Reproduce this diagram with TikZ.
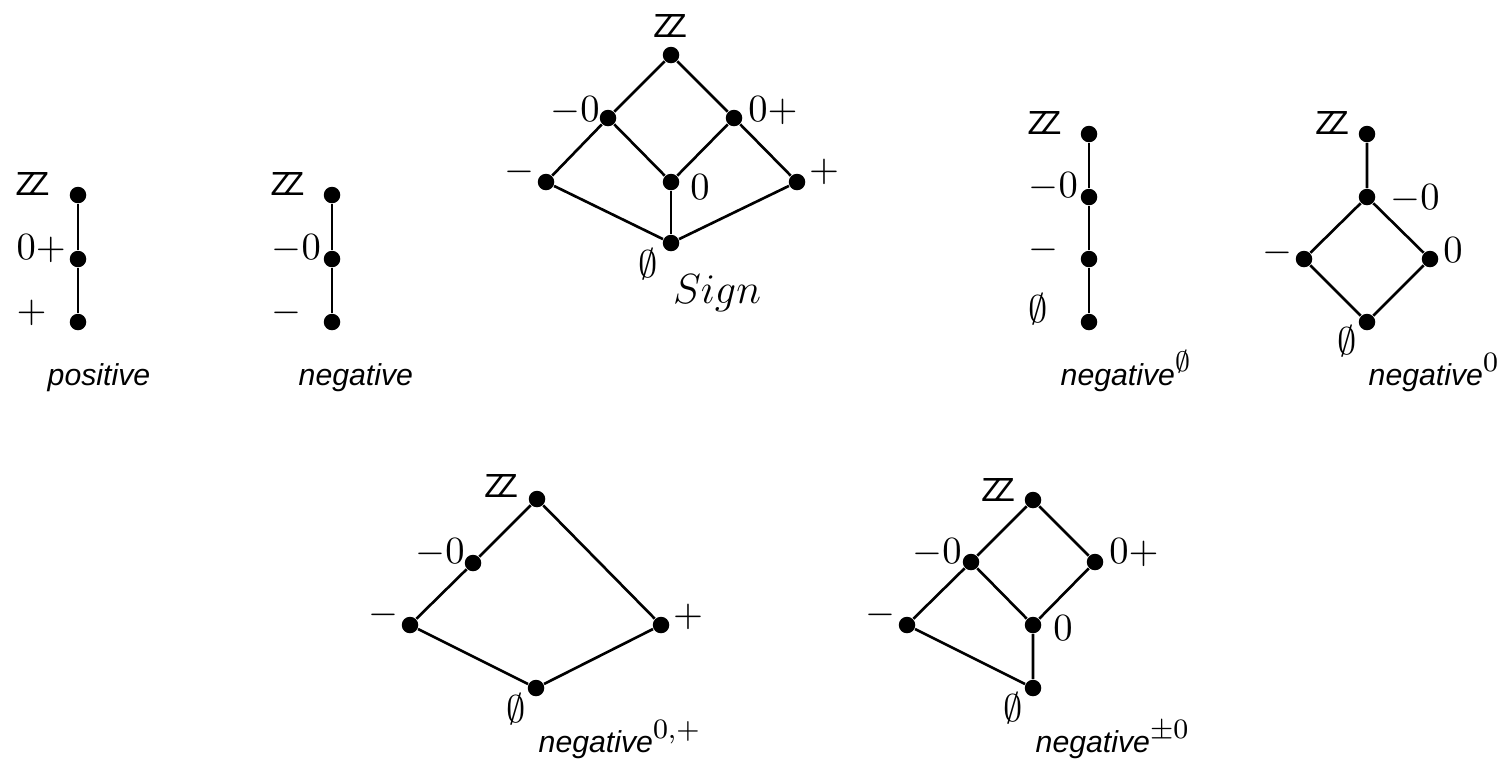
\documentclass[tikz,border=0pt]{standalone}
\usepackage{fontspec}
\usetikzlibrary{calc}
\newfontfamily\capfont{Liberation Sans}
\newcommand{\intset}{{\fontsize{9.5}{11}\selectfont\capfont Z\kern-0.22em Z}}
\newcommand{\capname}[1]{{\fontsize{8.6}{10}\selectfont\capfont\itshape #1}}

\begin{document}
\begin{tikzpicture}[
  x=0.01cm,
  y=-0.01cm,
  dot/.style={circle, fill=black, inner sep=0pt, minimum size=0.165cm},
  link/.style={draw=black, line width=0.75pt},
  lbl/.style={inner sep=0pt, font=\fontsize{11}{13}\selectfont},
  chainlbl/.style={lbl, anchor=base west},
  caption/.style={inner sep=0pt, anchor=base west, font=\fontsize{11}{13}\selectfont}
]
  \useasboundingbox (0,0) rectangle (1506,759);

  % positive
  \node[dot] (pos1) at (78,195) {};
  \node[dot] (pos2) at (78,259) {};
  \node[dot] (pos3) at (78,322) {};
  \draw[link] (pos1) -- (pos2) -- (pos3);
  \node[chainlbl] (pos1l) at ($(pos1)+(-63,0)$) {\intset};
  \node[chainlbl] (pos2l) at ($(pos2)+(-62,0)$) {$0+$};
  \node[chainlbl] (pos3l) at ($(pos3)+(-62,0)$) {$+$};
  \node[caption] (poscap) at (47,385) {\capname{positive}};

  % negative
  \node[dot] (neg1) at (332,195) {};
  \node[dot] (neg2) at (332,259) {};
  \node[dot] (neg3) at (332,322) {};
  \draw[link] (neg1) -- (neg2) -- (neg3);
  \node[chainlbl] (neg1l) at ($(neg1)+(-62,0)$) {\intset};
  \node[chainlbl] (neg2l) at ($(neg2)+(-61,0)$) {$-0$};
  \node[chainlbl] (neg3l) at ($(neg3)+(-61,0)$) {$-$};
  \node[caption] (negcap) at (298,385) {\capname{negative}};

  % Sign
  \node[dot] (sgTop) at (671,55) {};
  \node[dot] (sgMz) at (608,118) {};
  \node[dot] (sgZp) at (734,118) {};
  \node[dot] (sgM) at (546,182) {};
  \node[dot] (sgZ) at (671,182) {};
  \node[dot] (sgP) at (797,182) {};
  \node[dot] (sgE) at (671,243) {};
  \draw[link] (sgTop) -- (sgMz) -- (sgM) -- (sgE) -- (sgP) -- (sgZp) -- (sgTop);
  \draw[link] (sgMz) -- (sgZ) -- (sgZp);
  \draw[link] (sgZ) -- (sgE);
  \node[lbl] (sgTopl) at (670,26) {\intset};
  \node[lbl] (sgMzl) at (575,111) {$-0$};
  \node[lbl] (sgZpl) at (773,111) {$0+$};
  \node[lbl] (sgMl) at (519,172) {$-$};
  \node[lbl] (sgZl) at (700,187) {$0$};
  \node[lbl] (sgPl) at (824,172) {$+$};
  \node[lbl] (sgEl) at (648,264) {$\emptyset$};
  \node[lbl, anchor=base, font=\fontsize{12}{14}\selectfont] (sgcap) at (717,303) {$Sign$};

  % negative^emptyset
  \node[dot] (ne1) at (1089,134) {};
  \node[dot] (ne2) at (1089,197) {};
  \node[dot] (ne3) at (1089,259) {};
  \node[dot] (ne4) at (1089,322) {};
  \draw[link] (ne1) -- (ne2) -- (ne3) -- (ne4);
  \node[chainlbl] (ne1l) at ($(ne1)+(-62,0)$) {\intset};
  \node[chainlbl] (ne2l) at ($(ne2)+(-61,0)$) {$-0$};
  \node[chainlbl] (ne3l) at ($(ne3)+(-61,0)$) {$-$};
  \node[chainlbl] (ne4l) at ($(ne4)+(-61,0)$) {$\emptyset$};
  \node[caption] (necap) at (1060,385) {\capname{negative}$^{\emptyset}$};

  % negative^0
  \node[dot] (nzTop) at (1367,134) {};
  \node[dot] (nzMz) at (1367,197) {};
  \node[dot] (nzM) at (1304,259) {};
  \node[dot] (nzZ) at (1430,259) {};
  \node[dot] (nzE) at (1367,322) {};
  \draw[link] (nzTop) -- (nzMz) -- (nzM) -- (nzE) -- (nzZ) -- (nzMz);
  \node[lbl] (nzTopl) at (1332,123) {\intset};
  \node[lbl] (nzMzl) at (1415,199) {$-0$};
  \node[lbl] (nzMl) at (1277,253) {$-$};
  \node[lbl] (nzZl) at (1453,250) {$0$};
  \node[lbl] (nzEl) at (1347,341) {$\emptyset$};
  \node[caption] (nzcap) at (1368,385) {\capname{negative}$^{0}$};

  % negative^{0,+}
  \node[dot] (npTop) at (537,499) {};
  \node[dot] (npMz) at (473,563) {};
  \node[dot] (npM) at (410,625) {};
  \node[dot] (npP) at (661,625) {};
  \node[dot] (npE) at (536,688) {};
  \draw[link] (npTop) -- (npMz) -- (npM) -- (npE) -- (npP) -- (npTop);
  \node[lbl] (npTopl) at (501,486) {\intset};
  \node[lbl] (npMzl) at (440,553) {$-0$};
  \node[lbl] (npMl) at (383,615) {$-$};
  \node[lbl] (npPl) at (688,617) {$+$};
  \node[lbl] (npEl) at (516,709) {$\emptyset$};
  \node[caption] (npcap) at (538,752) {\capname{negative}$^{0,+}$};

  % negative^{\pm 0}
  \node[dot] (nsTop) at (1033,500) {};
  \node[dot] (nsMz) at (971,562) {};
  \node[dot] (nsZp) at (1095,562) {};
  \node[dot] (nsM) at (907,625) {};
  \node[dot] (nsZ) at (1033,625) {};
  \node[dot] (nsE) at (1033,688) {};
  \draw[link] (nsTop) -- (nsMz) -- (nsM) -- (nsE) -- (nsZ) -- (nsZp) -- (nsTop);
  \draw[link] (nsMz) -- (nsZ);
  \node[lbl] (nsTopl) at (998,490) {\intset};
  \node[lbl] (nsMzl) at (937,553) {$-0$};
  \node[lbl] (nsZpl) at (1134,553) {$0+$};
  \node[lbl] (nsMl) at (880,615) {$-$};
  \node[lbl] (nsZl) at (1063,628) {$0$};
  \node[lbl] (nsEl) at (1013,708) {$\emptyset$};
  \node[caption] (nscap) at (1035,752) {\capname{negative}$^{\pm 0}$};

\end{tikzpicture}
\end{document}
